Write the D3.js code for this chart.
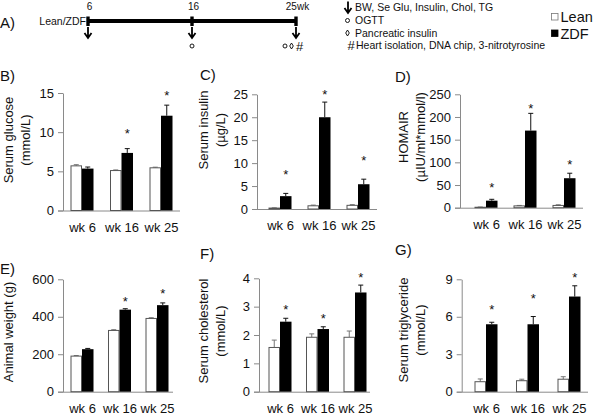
<!DOCTYPE html>
<html><head><meta charset="utf-8">
<script src="https://cdn.jsdelivr.net/npm/d3@7"></script>
<style>
body{margin:0;background:#fff}
svg{display:block}
text{font-family:"Liberation Sans",Arial,Helvetica,sans-serif;fill:#111}
</style>
</head><body><svg id="c" width="600" height="417"></svg>
<script>
// ---------- DATA ----------
const weeks = ["wk 6", "wk 16", "wk 25"];
const series = ["Lean", "ZDF"];

// B) Serum glucose (mmol/L)
const glucoseLean = [5.7, 5.1, 5.45];
const glucoseLeanErr = [0.15, 0.08, 0.08];
const glucoseZDF = [5.35, 7.35, 12.1];
const glucoseZDFErr = [0.2, 0.55, 1.35];
const glucoseStar = [null, 10.2, 15.0];
const glucoseTicks = [0, 5, 10, 15];

// C) Serum insulin (µg/L)
const insulinLean = [0.2, 0.7, 0.8];
const insulinLeanErr = [0.05, 0.15, 0.15];
const insulinZDF = [2.8, 20.0, 5.4];
const insulinZDFErr = [0.6, 3.3, 1.1];
const insulinStar = [8.1, 25.6, 11.3];
const insulinTicks = [0, 5, 10, 15, 20, 25];

// D) HOMAIR
const homaLean = [1, 4, 5];
const homaLeanErr = [0.5, 1, 1.5];
const homaZDF = [15.5, 170, 65];
const homaZDFErr = [3, 38, 11];
const homaStar = [50, 226, 101];
const homaTicks = [0, 50, 100, 150, 200, 250];

// E) Animal weight (g)
const weightLean = [190, 327, 391];
const weightLeanErr = [3, 4, 4];
const weightZDF = [227, 438, 462];
const weightZDFErr = [4, 5, 12];
const weightStar = [null, 498, 539];
const weightTicks = [0, 200, 400, 600];

// F) Serum cholesterol (mmol/L)
const cholLean = [1.56, 1.92, 1.92];
const cholLeanErr = [0.26, 0.12, 0.22];
const cholZDF = [2.47, 2.21, 3.5];
const cholZDFErr = [0.12, 0.08, 0.26];
const cholStar = [3.0, 2.67, 4.12];
const cholTicks = [0, 1, 2, 3, 4];

// G) Serum triglyceride (mmol/L)
const tgLean = [0.8, 0.88, 1.0];
const tgLeanErr = [0.22, 0.12, 0.2];
const tgZDF = [5.4, 5.4, 7.62];
const tgZDFErr = [0.16, 0.62, 0.86];
const tgStar = [6.82, 7.67, 9.36];
const tgTicks = [0, 3, 6, 9];

// A) timeline
const timelineWeeks = ["6", "16", "25wk"];
const timelineBelow = [[], ["circle"], ["circle", "diamond", "hash"]];
const timelineLegend = ["BW, Se Glu, Insulin, Chol, TG", "OGTT", "Pancreatic insulin", "Heart isolation, DNA chip, 3-nitrotyrosine"];

// ---------- DRAW ----------
const svg = d3.select("#c");
const FONT = 13;
const BW = 11.5;
const AXIS_COLOR = "#8a8a8a";

function panel(cfg) {
  const g = svg.append("g");
  const y = d3.scaleLinear().domain([0, cfg.ticks[cfg.ticks.length - 1]]).range([cfg.y0, cfg.y1]);
  const x = d3.scalePoint().domain(weeks).range([cfg.gx0, cfg.gx1]);
  const sx = d3.scaleBand().domain(series).range([-BW, BW]);

  g.append("text").attr("x", cfg.lx).attr("y", cfg.ly).attr("font-size", 15).text(cfg.letter);

  const ax = g.append("g").attr("transform", `translate(${cfg.axisX},0)`)
    .call(d3.axisLeft(y).tickValues(cfg.ticks).tickSize(5).tickSizeOuter(0).tickPadding(4).tickFormat(d3.format("d")));
  ax.select(".domain").attr("stroke", AXIS_COLOR);
  ax.selectAll(".tick line").attr("stroke", AXIS_COLOR);
  ax.selectAll(".tick text").attr("font-size", FONT).attr("font-family", null).attr("fill", "#111");

  g.append("line").attr("x1", cfg.axisX - 5).attr("x2", cfg.xEnd)
    .attr("y1", y(0) + 0.5).attr("y2", y(0) + 0.5).attr("stroke", AXIS_COLOR);

  const bx = g.append("g").attr("transform", `translate(0,${cfg.y0})`)
    .call(d3.axisBottom(x).tickSize(0).tickPadding(12));
  bx.select(".domain").remove();
  bx.selectAll(".tick text").attr("font-size", FONT).attr("font-family", null).attr("fill", "#111");

  const rows = [];
  weeks.forEach((w, i) => {
    rows.push({ w, s: "Lean", v: cfg.lean[i], e: cfg.leanErr[i] });
    rows.push({ w, s: "ZDF", v: cfg.zdf[i], e: cfg.zdfErr[i] });
  });

  const eb = g.append("g").selectAll("g").data(rows).join("g")
    .attr("stroke", d => d.s === "Lean" ? "#777" : "#111").attr("stroke-width", 1);
  eb.append("line")
    .attr("x1", d => x(d.w) + sx(d.s) + BW / 2).attr("x2", d => x(d.w) + sx(d.s) + BW / 2)
    .attr("y1", d => y(d.v)).attr("y2", d => y(d.v + d.e));
  eb.append("line")
    .attr("x1", d => x(d.w) + sx(d.s) + BW / 2 - 2.5).attr("x2", d => x(d.w) + sx(d.s) + BW / 2 + 2.5)
    .attr("y1", d => y(d.v + d.e)).attr("y2", d => y(d.v + d.e));

  g.append("g").selectAll("rect").data(rows).join("rect")
    .attr("x", d => x(d.w) + sx(d.s) + (d.s === "Lean" ? 0.5 : 0))
    .attr("width", d => d.s === "Lean" ? BW - 1 : BW)
    .attr("y", d => y(d.v))
    .attr("height", d => y(0) - y(d.v))
    .attr("fill", d => d.s === "Lean" ? "#fff" : "#000")
    .attr("stroke", d => d.s === "Lean" ? "#555" : "none")
    .attr("stroke-width", 1);

  g.append("g").selectAll("text").data(weeks.map((w, i) => ({ w, v: cfg.star[i] })).filter(d => d.v != null))
    .join("text")
    .attr("x", d => x(d.w) + sx("ZDF") + BW / 2)
    .attr("y", d => y(d.v) + 7.4)
    .attr("text-anchor", "middle").attr("font-size", FONT).text("*");

  const lab = g.append("text").attr("font-size", FONT).attr("text-anchor", "middle")
    .attr("transform", `translate(0,${cfg.labY}) rotate(-90)`);
  cfg.ylab.forEach((t, i) => {
    lab.append("tspan").attr("x", 0).attr("y", cfg.labX + i * 16.5).text(t);
  });
}

panel({ letter: "B)", lx: 0, ly: 81, axisX: 63, xEnd: 180, gx0: 82, gx1: 161, y0: 210.5, y1: 93,
  ticks: glucoseTicks, lean: glucoseLean, leanErr: glucoseLeanErr, zdf: glucoseZDF, zdfErr: glucoseZDFErr, star: glucoseStar,
  ylab: ["Serum glucose", "(mmol/L)"], labX: 13, labY: 140 });
panel({ letter: "C)", lx: 200, ly: 80, axisX: 257, xEnd: 377, gx0: 280, gx1: 358, y0: 209, y1: 94.3,
  ticks: insulinTicks, lean: insulinLean, leanErr: insulinLeanErr, zdf: insulinZDF, zdfErr: insulinZDFErr, star: insulinStar,
  ylab: ["Serum insulin", "(µg/L)"], labX: 208, labY: 130 });
panel({ letter: "D)", lx: 395, ly: 82, axisX: 460, xEnd: 583, gx0: 486, gx1: 564, y0: 207.7, y1: 94.3,
  ticks: homaTicks, lean: homaLean, leanErr: homaLeanErr, zdf: homaZDF, zdfErr: homaZDFErr, star: homaStar,
  ylab: ["HOMAIR", "(µIU/ml*mmol/l)"], labX: 408, labY: 137 });
panel({ letter: "E)", lx: 0, ly: 274, axisX: 63, xEnd: 173, gx0: 82, gx1: 157, y0: 391.7, y1: 279.3,
  ticks: weightTicks, lean: weightLean, leanErr: weightLeanErr, zdf: weightZDF, zdfErr: weightZDFErr, star: weightStar,
  ylab: ["Animal weight (g)"], labX: 13, labY: 332 });
panel({ letter: "F)", lx: 200, ly: 259, axisX: 259, xEnd: 370, gx0: 280, gx1: 355, y0: 391.7, y1: 278.3,
  ticks: cholTicks, lean: cholLean, leanErr: cholLeanErr, zdf: cholZDF, zdfErr: cholZDFErr, star: cholStar,
  ylab: ["Serum cholesterol", "(mmol/L)"], labX: 208, labY: 331 });
panel({ letter: "G)", lx: 395, ly: 255, axisX: 461.7, xEnd: 588, gx0: 486, gx1: 569, y0: 391.7, y1: 279.3,
  ticks: tgTicks, lean: tgLean, leanErr: tgLeanErr, zdf: tgZDF, zdfErr: tgZDFErr, star: tgStar,
  ylab: ["Serum triglyceride", "(mmol/L)"], labX: 408, labY: 330 });

// ---------- A) timeline ----------
const A = svg.append("g");
A.append("text").attr("x", 0).attr("y", 28).attr("font-size", 15).text("A)");
const tx = d3.scalePoint().domain(timelineWeeks).range([88, 296]);
A.append("line").attr("x1", tx("6")).attr("x2", tx("25wk")).attr("y1", 21).attr("y2", 21)
  .attr("stroke", "#000").attr("stroke-width", 4);
A.append("text").attr("x", tx("6") - 2).attr("y", 25).attr("text-anchor", "end").attr("font-size", 10.5).text("Lean/ZDF");

function arrow(sel, x, yTop, yBot) {
  sel.append("path")
    .attr("d", `M${x},${yTop}V${yBot - 0.5}M${x - 3.5},${yBot - 5}L${x},${yBot}L${x + 3.5},${yBot - 5}`)
    .attr("fill", "none").attr("stroke", "#000").attr("stroke-width", 1.8);
}
function circleMark(sel, x, y) {
  sel.append("circle").attr("cx", x).attr("cy", y).attr("r", 2).attr("fill", "none").attr("stroke", "#000").attr("stroke-width", 0.9);
}
function diamondMark(sel, x, y) {
  sel.append("path").attr("d", `M${x},${y - 3}L${x + 1.8},${y}L${x},${y + 3}L${x - 1.8},${y}Z`)
    .attr("fill", "none").attr("stroke", "#000").attr("stroke-width", 0.9);
}
function hashMark(sel, x, y, size) {
  sel.append("text").attr("x", x).attr("y", y + size * 0.36).attr("text-anchor", "middle")
    .attr("font-size", size).text("#");
}

timelineWeeks.forEach((w, i) => {
  const x = tx(w);
  A.append("rect").attr("x", x - 1.7).attr("y", 16.5).attr("width", 3.4).attr("height", 9.5).attr("fill", "#000");
  A.append("text").attr("x", x + 1.5).attr("y", 9.5).attr("text-anchor", "middle").attr("font-size", 10).text(w);
  arrow(A, x, 27, 38);
  const marks = timelineBelow[i];
  const startX = x - (marks.length - 1) * 5.5;
  marks.forEach((m, j) => {
    const mx = startX + j * 6.5 + (m === "hash" ? 1.5 : 0);
    if (m === "circle") circleMark(A, mx, 46);
    else if (m === "diamond") diamondMark(A, mx, 46);
    else hashMark(A, mx, 46, 13);
  });
});

const lg = svg.append("g");
const legY = [7.5, 20.5, 33, 45];
arrow(lg, 348, 1.5, 13);
circleMark(lg, 347.5, legY[1]);
diamondMark(lg, 347.5, legY[2]);
hashMark(lg, 351, legY[3], 13);
timelineLegend.forEach((t, i) => {
  lg.append("text").attr("x", i === 3 ? 356 : 355).attr("y", legY[i] + 3.7).attr("font-size", 10.5).text(t);
});

const sl = svg.append("g");
series.forEach((s, i) => {
  const yc = 17 + i * 16.5;
  sl.append("rect").attr("x", 551.5).attr("y", yc - 3.5).attr("width", 6.5).attr("height", 6.5)
    .attr("fill", s === "Lean" ? "#fff" : "#000").attr("stroke", s === "Lean" ? "#777" : "#000").attr("stroke-width", 0.8);
  sl.append("text").attr("x", 560.5).attr("y", yc + 5.3).attr("font-size", 14.5).text(s);
});
</script>
</body></html>
